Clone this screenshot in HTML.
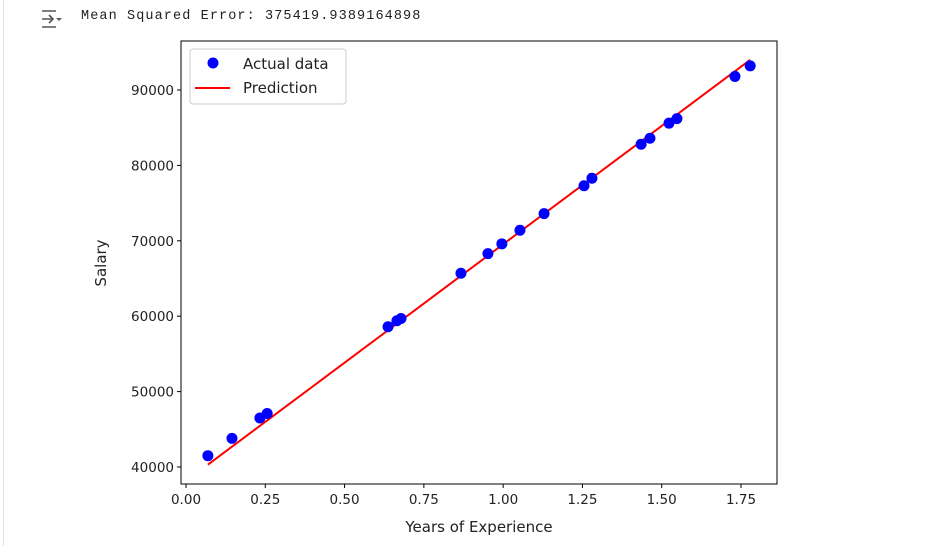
<!DOCTYPE html>
<html><head><meta charset="utf-8"><style>
body{margin:0;width:937px;height:546px;background:#fff;overflow:hidden;position:relative;font-family:"DejaVu Sans",sans-serif}
#cellborder{position:absolute;left:0;top:0;width:3px;height:546px;border-right:1px solid #e0e0e0}
#mse{position:absolute;left:81px;top:9px;font-family:"Liberation Mono",monospace;font-size:13.5px;letter-spacing:1.1px;color:#222}
</style></head><body>
<div id="cellborder"></div>
<svg style="position:absolute;left:38px;top:8px" width="26" height="22">
<path d="M4 3h14M4 19h14M4 11h11M11 7l4 4-4 4" stroke="#555" stroke-width="1.6" fill="none"/><path d="M18 10h6l-3 3z" fill="#555"/></svg>
<div id="mse">Mean Squared Error: 375419.9389164898</div>
<svg id="chart" width="937" height="546" style="position:absolute;left:0;top:0"></svg>
<script>
const xs=[0.069,0.145,0.233,0.256,0.637,0.665,0.678,0.867,0.952,0.996,1.053,1.129,1.255,1.280,1.435,1.463,1.523,1.548,1.731,1.779];
const ys=[41500,43800,46500,47100,58600,59400,59700,65700,68300,69600,71400,73600,77300,78300,82800,83600,85600,86200,91800,93200];
const lineX=[0.069,1.779];
const lineY=[40300,94000];
const xTicks=[0,0.25,0.5,0.75,1,1.25,1.5,1.75];
const yTicks=[40000,50000,60000,70000,80000,90000];
const L=181,R=777,T=41,B=484;
const sx=v=>186+v*(741-186)/1.75;
const sy=v=>467-(v-40000)*(467-90)/50000;
const svg=document.getElementById('chart');const NS='http://www.w3.org/2000/svg';
function mk(t,a,p){const e=document.createElementNS(NS,t);for(const k in a)e.setAttribute(k,a[k]);(p||svg).appendChild(e);return e;}
xTicks.forEach(t=>{const g=mk('g',{});


mk('line',{x1:sx(t),x2:sx(t),y1:B,y2:B+4,stroke:'#000'},g);
const tx=mk('text',{x:sx(t),y:B+20,'text-anchor':'middle','font-size':13.5,fill:'#222'},g);tx.textContent=t.toFixed(2);});
yTicks.forEach(t=>{const g=mk('g',{});


mk('line',{x1:L-4,x2:L,y1:sy(t),y2:sy(t),stroke:'#000'},g);
const tx=mk('text',{x:L-7,y:sy(t)+5,'text-anchor':'end','font-size':13.5,fill:'#222'},g);tx.textContent=t;});
const ln=mk('line',{x1:sx(lineX[0]),y1:sy(lineY[0]),x2:sx(lineX[1]),y2:sy(lineY[1]),stroke:'#f00','stroke-width':2});


xs.forEach((x,i)=>{const c=mk('circle',{cx:sx(x),cy:sy(ys[i]),r:5.5,fill:'#00f'});

});
const fr=mk('rect',{x:L,y:T,width:R-L,height:B-T,fill:'none',stroke:'#000','stroke-width':1});


const xl=mk('text',{x:(L+R)/2,y:532,'text-anchor':'middle','font-size':15,fill:'#222'});xl.textContent='Years of Experience';


const yl=mk('text',{x:106,y:263,'text-anchor':'middle','font-size':15,fill:'#222',transform:'rotate(-90 106 263)'});yl.textContent='Salary';


const lg=mk('g',{});


mk('rect',{x:190,y:49,width:156,height:55,rx:3,fill:'#fff',stroke:'#ccc'},lg);
mk('circle',{cx:213,cy:63,r:5.5,fill:'#00f'},lg);
const t1=mk('text',{x:243,y:69,'font-size':15,fill:'#222'},lg);t1.textContent='Actual data';
mk('line',{x1:195,x2:230,y1:88,y2:88,stroke:'#f00','stroke-width':2},lg);
const t2=mk('text',{x:243,y:93,'font-size':15,fill:'#222'},lg);t2.textContent='Prediction';
</script>
</body></html>
